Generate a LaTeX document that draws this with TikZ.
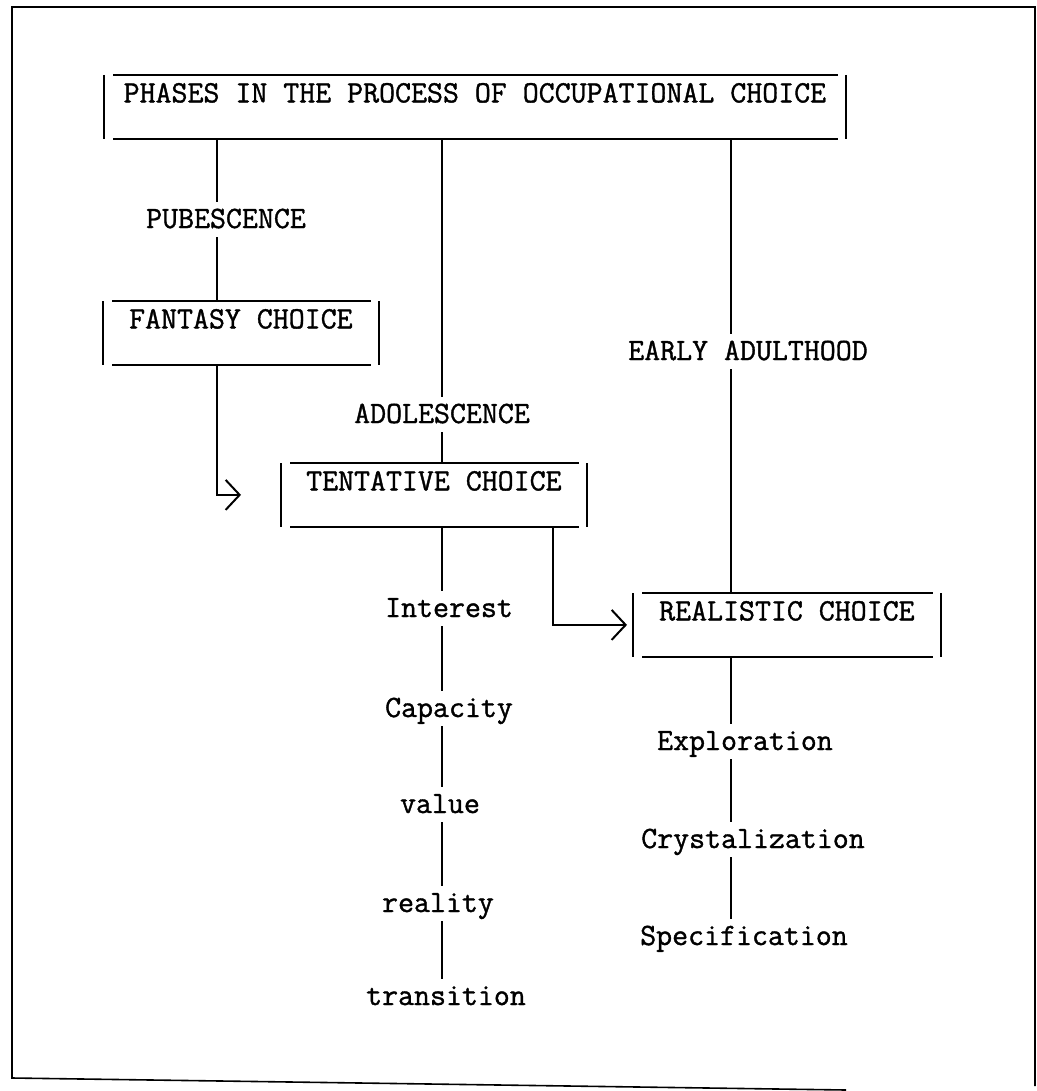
\documentclass[tikz,border=0pt]{standalone}
\usepackage{fontspec}
\setmonofont{Latin Modern Mono}[FakeBold=1.2]
\usetikzlibrary{arrows.meta}

% box drawn as four separate strokes, as on a typewriter sheet
\newcommand{\typedbox}[1]{%
  \draw[boxline] (#1.north west) -- (#1.south west);
  \draw[boxline] (#1.north east) -- (#1.south east);
  \draw[boxline] ([xshift=4.5pt]#1.north west) -- ([xshift=-4pt]#1.north east);
  \draw[boxline] ([xshift=4.5pt]#1.south west) -- ([xshift=-4pt]#1.south east);}

\begin{document}
\begin{tikzpicture}[x=0.5pt, y=-0.5pt, font=\ttfamily\fontsize{15.5}{18}\selectfont,
  phase/.style={anchor=north west, inner xsep=0pt, inner ysep=0pt, text height=13.5pt, text depth=18pt},
  lbl/.style={anchor=base, inner xsep=2pt, inner ysep=4.5pt, text height=8.5pt, text depth=0pt},
  boxline/.style={line width=1pt},
  link/.style={line width=1pt},
  tip/.style={-{Straight Barb[length=7pt, width=15pt, line width=1pt]}}]
  \useasboundingbox (0,0) rectangle (1037,1091);
  % sheet border
  \draw[line width=0.8pt] (1035,1086) -- (1035,7) -- (12,7) -- (12,1078) -- (846,1090);
  \coordinate (colA) at (217,0);
  \coordinate (colB) at (442,0);
  \coordinate (colC) at (553,0);
  \coordinate (colD) at (731,0);
  \node[phase, minimum width=370.5pt] (phases) at (104,75) {PHASES IN THE PROCESS OF OCCUPATIONAL CHOICE};
  \node[phase, minimum width=137.5pt] (fantasy) at (103,301) {FANTASY CHOICE};
  \node[phase, minimum width=152.5pt] (tentative) at (281,463) {TENTATIVE CHOICE};
  \node[phase, minimum width=153.5pt] (realistic) at (633,593) {REALISTIC CHOICE};
  \typedbox{phases}
  \typedbox{fantasy}
  \typedbox{tentative}
  \typedbox{realistic}
  \node[lbl] (pub) at (226,228) {PUBESCENCE};
  \node[lbl] (adol) at (442,423) {ADOLESCENCE};
  \node[lbl] (early) at (748,360) {EARLY ADULTHOOD};
  \node[lbl] (interest) at (449,617) {Interest};
  \node[lbl] (capacity) at (449,717) {Capacity};
  \node[lbl] (value) at (440,813) {value};
  \node[lbl] (reality) at (438,912) {reality};
  \node[lbl] (transition) at (446,1005) {transition};
  \node[lbl] (explore) at (745,750) {Exploration};
  \node[lbl] (crystal) at (753,848) {Crystalization};
  \node[lbl] (specify) at (744,945) {Specification};
  % stage lines
  \draw[link] (phases.south -| colA) -- (pub.north -| colA);
  \draw[link] (pub.south -| colA) -- (fantasy.north -| colA);
  \draw[link] (phases.south -| colB) -- (adol.north -| colB);
  \draw[link] (adol.south -| colB) -- (tentative.north -| colB);
  \draw[link] (phases.south -| colD) -- (early.north -| colD);
  \draw[link] (early.south -| colD) -- (realistic.north -| colD);
  \draw[link, tip, shorten >=20pt] (fantasy.south -| colA) |- (tentative.west);
  \draw[link, tip, shorten >=3pt] (tentative.south -| colC) |- (realistic.west);
  % tentative factors
  \draw[link] (tentative.south -| colB) -- (interest.north -| colB);
  \draw[link] (interest.south -| colB) -- (capacity.north -| colB);
  \draw[link] (capacity.south -| colB) -- (value.north -| colB);
  \draw[link] (value.south -| colB) -- (reality.north -| colB);
  \draw[link] (reality.south -| colB) -- (transition.north -| colB);
  % realistic stages
  \draw[link] (realistic.south -| colD) -- (explore.north -| colD);
  \draw[link] (explore.south -| colD) -- (crystal.north -| colD);
  \draw[link] (crystal.south -| colD) -- (specify.north -| colD);
\end{tikzpicture}
\end{document}
